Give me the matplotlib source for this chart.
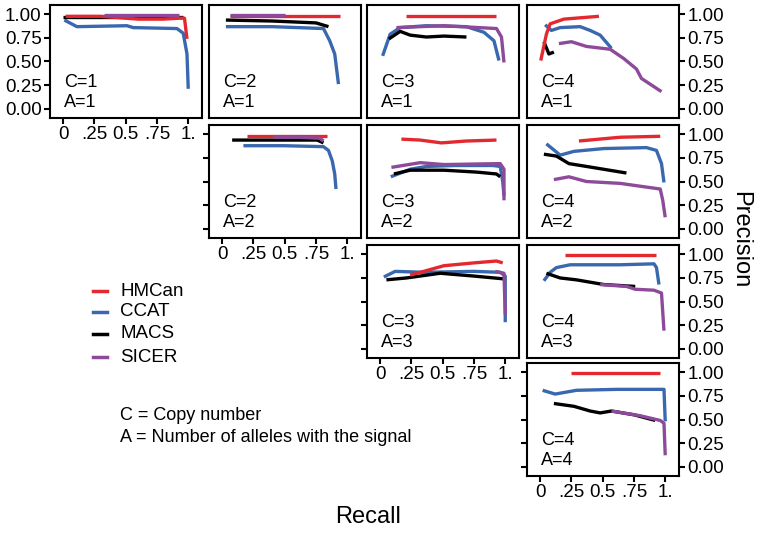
import matplotlib
matplotlib.use('Agg')
import matplotlib.pyplot as plt
from matplotlib.lines import Line2D

plt.rcParams['font.family'] = ['Liberation Sans', 'DejaVu Sans']

# -------------------------------
# 데이터 (Recall, Precision) - 그림에서 읽은 값
# -------------------------------
methods = ['HMCan', 'CCAT', 'MACS', 'SICER']
colors = {'HMCan': '#E4282F', 'CCAT': '#3A68AE', 'MACS': '#000000', 'SICER': '#8E4A9A'}
zorders = {'CCAT': 2, 'MACS': 3, 'HMCan': 4, 'SICER': 5}

x_ticks = [0, 0.25, 0.5, 0.75, 1.0]
x_ticklabels = ['0', '.25', '0.5', '.75', '1.']
y_ticks = [0, 0.25, 0.5, 0.75, 1.0]
y_ticklabels = ['0.00', '0.25', '0.50', '0.75', '1.00']

c1a1 = {
    'HMCan': ([0.02, 0.3, 0.5, 0.6, 0.8, 0.93, 0.97, 0.98, 0.99],
              [0.98, 0.98, 0.96, 0.95, 0.95, 0.96, 0.96, 0.85, 0.74]),
    'CCAT': ([0.01, 0.11, 0.51, 0.56, 0.91, 0.96, 0.99, 1.0],
             [0.94, 0.87, 0.88, 0.86, 0.85, 0.8, 0.58, 0.21]),
    'MACS': ([0.0, 0.5, 0.96], [0.97, 0.97, 0.97]),
    'SICER': ([0.33, 0.6, 0.93], [0.99, 0.99, 0.99]),
}
c2a1 = {
    'HMCan': ([0.06, 0.5, 0.94], [0.98, 0.98, 0.98]),
    'CCAT': ([0.03, 0.4, 0.81, 0.86, 0.9, 0.93], [0.87, 0.87, 0.85, 0.72, 0.58, 0.26]),
    'MACS': ([0.03, 0.4, 0.75, 0.85], [0.94, 0.93, 0.91, 0.87]),
    'SICER': ([0.06, 0.3, 0.5], [0.99, 0.99, 0.99]),
}
c3a1 = {
    'HMCan': ([0.21, 0.6, 0.93], [0.98, 0.98, 0.98]),
    'CCAT': ([0.02, 0.08, 0.16, 0.37, 0.69, 0.83, 0.91, 0.95],
             [0.56, 0.79, 0.86, 0.88, 0.87, 0.81, 0.72, 0.51]),
    'MACS': ([0.07, 0.16, 0.24, 0.37, 0.51, 0.69], [0.74, 0.82, 0.78, 0.76, 0.77, 0.76]),
    'SICER': ([0.13, 0.51, 0.93, 0.97, 0.99], [0.86, 0.88, 0.85, 0.76, 0.49]),
}
c4a1 = {
    'HMCan': ([0.005, 0.05, 0.08, 0.19, 0.47], [0.51, 0.79, 0.9, 0.95, 0.98]),
    'CCAT': ([0.04, 0.09, 0.16, 0.32, 0.4, 0.48, 0.57], [0.89, 0.83, 0.86, 0.87, 0.83, 0.78, 0.64]),
    'MACS': ([0.03, 0.07, 0.11], [0.71, 0.58, 0.6]),
    'SICER': ([0.15, 0.25, 0.37, 0.56, 0.67, 0.77, 0.81, 0.97],
              [0.69, 0.71, 0.66, 0.63, 0.53, 0.42, 0.32, 0.18]),
}
c2a2 = {
    'HMCan': ([0.2, 0.5, 0.84], [0.98, 0.98, 0.98]),
    'CCAT': ([0.17, 0.5, 0.81, 0.85, 0.88, 0.9, 0.91], [0.88, 0.88, 0.87, 0.83, 0.72, 0.58, 0.42]),
    'MACS': ([0.08, 0.4, 0.76, 0.81], [0.94, 0.94, 0.94, 0.91]),
    'SICER': ([0.41, 0.6, 0.78, 0.81], [0.97, 0.97, 0.96, 0.93]),
}
c3a2 = {
    'HMCan': ([0.17, 0.32, 0.49, 0.69, 0.93], [0.95, 0.94, 0.91, 0.93, 0.94]),
    'CCAT': ([0.085, 0.24, 0.37, 0.6, 0.9, 0.96, 0.98, 0.99],
             [0.55, 0.63, 0.66, 0.67, 0.67, 0.66, 0.5, 0.35]),
    'MACS': ([0.11, 0.24, 0.51, 0.77, 0.93, 0.96], [0.58, 0.62, 0.62, 0.6, 0.58, 0.55]),
    'SICER': ([0.09, 0.32, 0.51, 0.96, 0.99, 0.99], [0.65, 0.7, 0.68, 0.69, 0.63, 0.3]),
}
c4a2 = {
    'HMCan': ([0.31, 0.64, 0.96], [0.93, 0.97, 0.98]),
    'CCAT': ([0.05, 0.16, 0.27, 0.51, 0.85, 0.93, 0.97, 0.99],
             [0.9, 0.78, 0.82, 0.85, 0.86, 0.83, 0.69, 0.49]),
    'MACS': ([0.03, 0.13, 0.23, 0.37, 0.69], [0.79, 0.77, 0.69, 0.66, 0.59]),
    'SICER': ([0.11, 0.23, 0.37, 0.64, 0.96, 0.98, 1.0], [0.52, 0.55, 0.5, 0.48, 0.42, 0.3, 0.12]),
}
c3a3 = {
    'HMCan': ([0.24, 0.51, 0.75, 0.93, 0.98], [0.78, 0.88, 0.91, 0.93, 0.91]),
    'CCAT': ([0.03, 0.12, 0.35, 0.75, 0.96, 1.0, 1.0], [0.76, 0.82, 0.81, 0.82, 0.81, 0.77, 0.28]),
    'MACS': ([0.05, 0.21, 0.48, 0.75, 0.99], [0.73, 0.75, 0.8, 0.77, 0.74]),
    'SICER': ([0.92, 0.99, 1.0], [0.82, 0.8, 0.36]),
}
c4a3 = {
    'HMCan': ([0.2, 0.6, 0.93], [0.99, 0.99, 0.99]),
    'CCAT': ([0.03, 0.08, 0.13, 0.24, 0.64, 0.91, 0.93, 0.95],
             [0.72, 0.81, 0.86, 0.89, 0.89, 0.9, 0.86, 0.68]),
    'MACS': ([0.05, 0.16, 0.29, 0.51, 0.76], [0.8, 0.75, 0.73, 0.68, 0.66]),
    'SICER': ([0.48, 0.69, 0.76, 0.91, 0.97, 0.99], [0.68, 0.66, 0.63, 0.62, 0.59, 0.19]),
}
c4a4 = {
    'HMCan': ([0.25, 0.6, 0.96], [0.99, 0.99, 0.99]),
    'CCAT': ([0.02, 0.12, 0.29, 0.61, 0.99, 1.0], [0.81, 0.77, 0.81, 0.82, 0.82, 0.48]),
    'MACS': ([0.11, 0.27, 0.4, 0.48, 0.57, 0.75, 0.92], [0.67, 0.64, 0.59, 0.57, 0.59, 0.55, 0.49]),
    'SICER': ([0.57, 0.8, 0.96, 0.99, 1.0], [0.59, 0.54, 0.49, 0.46, 0.12]),
}

# (데이터, C, A, 행, 열)
panels = [
    (c1a1, 1, 1, 0, 0), (c2a1, 2, 1, 0, 1), (c3a1, 3, 1, 0, 2), (c4a1, 4, 1, 0, 3),
    (c2a2, 2, 2, 1, 1), (c3a2, 3, 2, 1, 2), (c4a2, 4, 2, 1, 3),
    (c3a3, 3, 3, 2, 2), (c4a3, 4, 3, 2, 3),
    (c4a4, 4, 4, 3, 3),
]

# -------------------------------
# 그림 그리기
# -------------------------------
W, H = 760, 534
fig = plt.figure(figsize=(W / 100, H / 100), dpi=100)
col_left = [50, 209, 367, 527]
row_top = [5, 125, 245, 363]
pw, ph = 152, 113

for data, c, a, r, col in panels:
    ax = fig.add_axes([col_left[col] / W, 1 - (row_top[r] + ph) / H, pw / W, ph / H])
    for m in methods:
        xs, ys = data[m]
        ax.plot(xs, ys, color=colors[m], lw=2.4, zorder=zorders[m], solid_capstyle='butt')
    ax.set_xlim(-0.105, 1.11)
    ax.set_ylim(-0.1, 1.1)
    for s in ax.spines.values():
        s.set_linewidth(1.5)
    ax.text(0.09, 0.27, f'C={c}', transform=ax.transAxes, fontsize=13)
    ax.text(0.09, 0.1, f'A={a}', transform=ax.transAxes, fontsize=13)

    diag = (col == r)   # 각 행의 첫 패널 = 각 열의 마지막 패널
    # x 축
    if diag:
        ax.set_xticks(x_ticks)
        ax.set_xticklabels(x_ticklabels)
    else:
        ax.set_xticks([])
    # y 축
    if diag or col == 3:
        ax.set_yticks(y_ticks)
        ax.set_yticklabels(y_ticklabels)
    else:
        ax.set_yticks([])
    ax.tick_params(axis='both', direction='out', length=4, width=1.5, labelsize=13.5, pad=2)
    if col == 3:
        ax.tick_params(axis='y', right=True, labelright=True, left=(r == 3), labelleft=False)
    elif diag:
        ax.tick_params(axis='y', labelleft=(r == 0))

# 범례
legend_y = [291, 312, 334, 357]
for m, yy in zip(methods, legend_y):
    fig.add_artist(Line2D([93 / W, 107 / W], [1 - yy / H, 1 - yy / H], color=colors[m], lw=2.5))
    fig.text(120 / W, 1 - yy / H, m, fontsize=13.5, va='center')

fig.text(120 / W, 1 - 415 / H, 'C = Copy number', fontsize=13, va='center')
fig.text(120 / W, 1 - 437 / H, 'A = Number of alleles with the signal', fontsize=13, va='center')

fig.text(368 / W, 1 - 517 / H, 'Recall', fontsize=17, ha='center', va='center')
fig.text(740 / W, 1 - 240 / H, 'Precision', fontsize=17, ha='center', va='center', rotation=270)

fig.savefig('out.png', dpi=100, facecolor='white')
